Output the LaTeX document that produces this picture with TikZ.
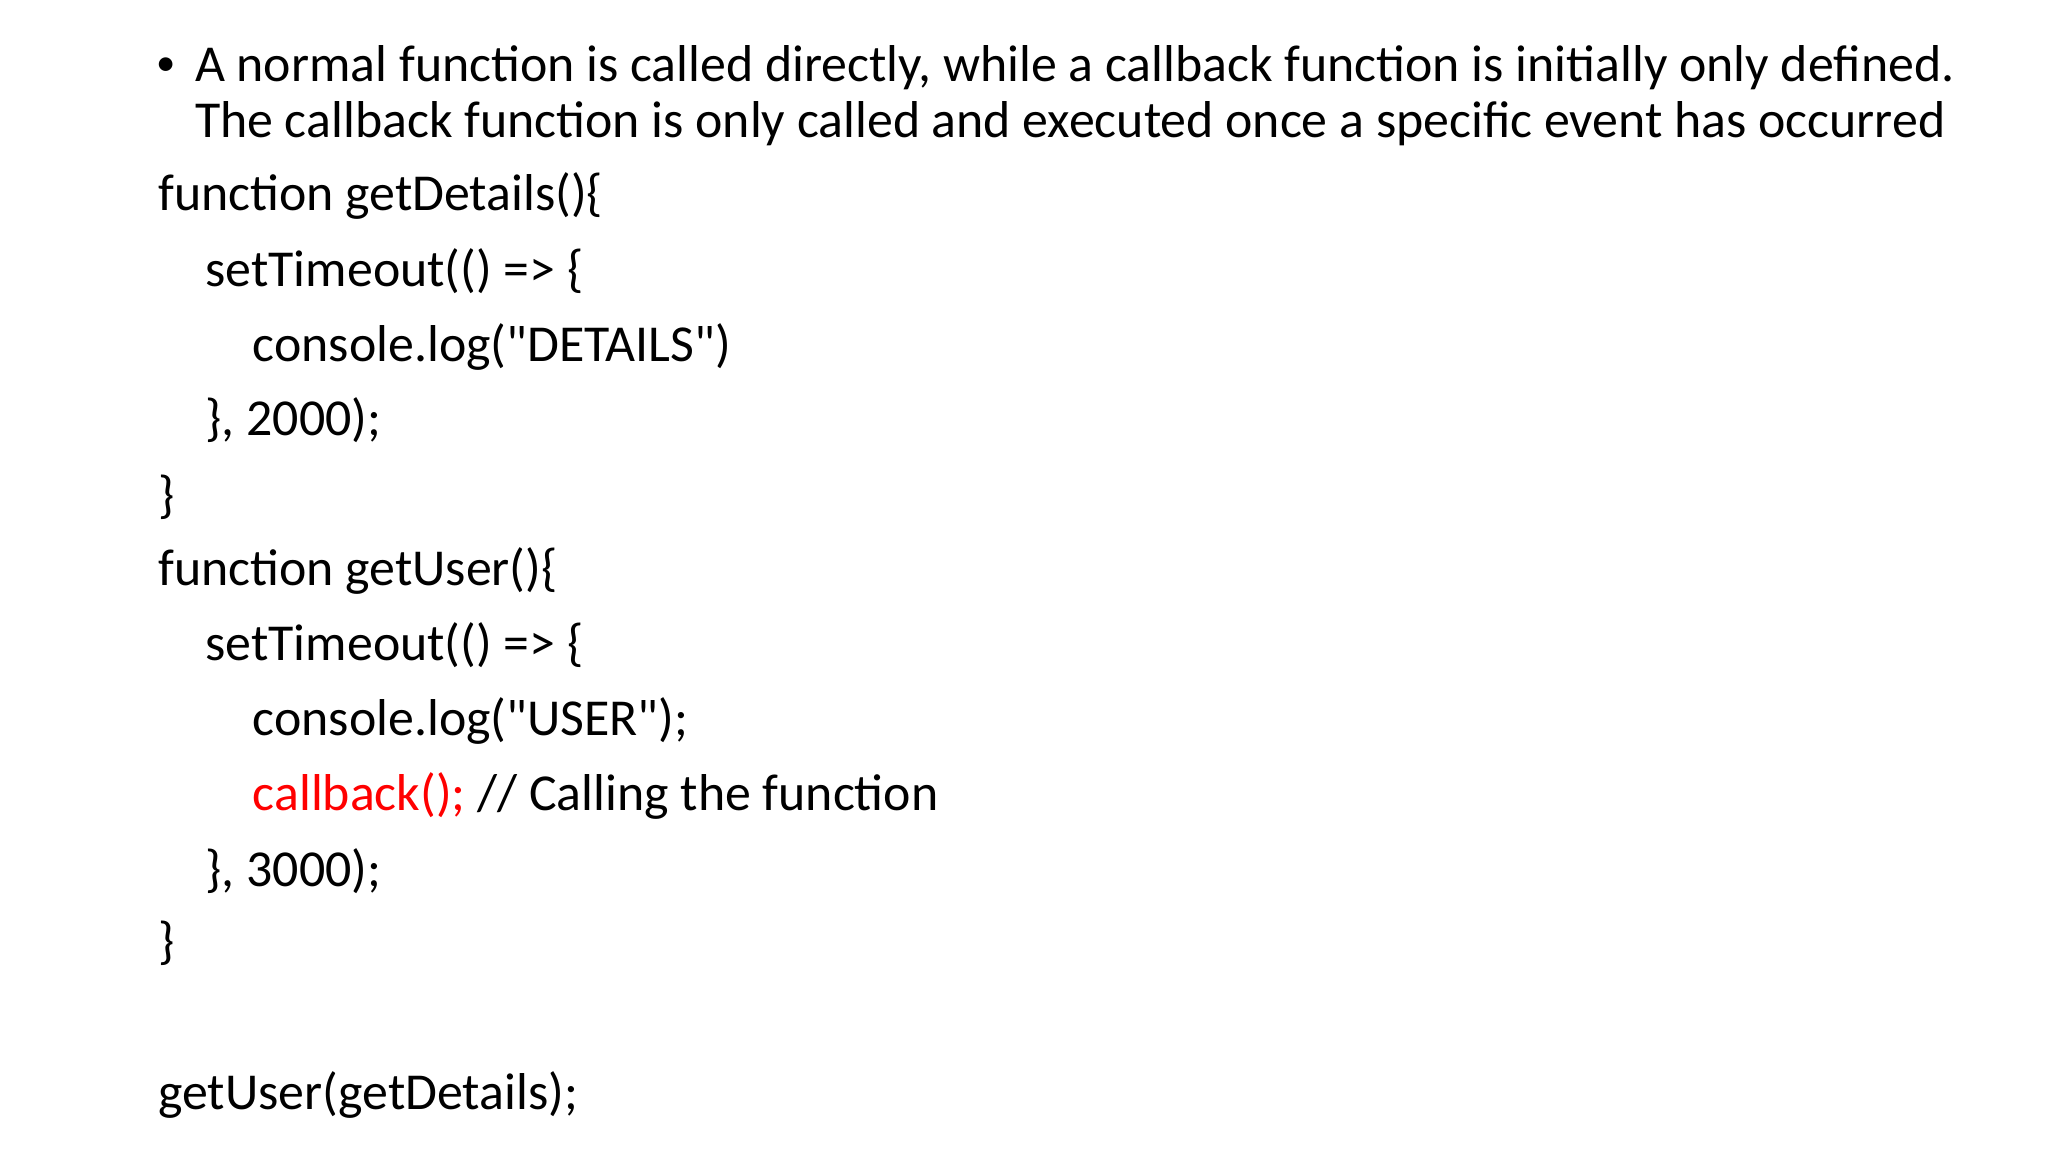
\documentclass[tikz,border=0pt]{standalone}
\usepackage{fontspec}
\setmainfont{Carlito}
\begin{document}
\begin{tikzpicture}[x=1cm,y=1cm,
  t/.style={anchor=base west,inner sep=0pt,font=\fontsize{14.75pt}{18pt}\selectfont}]
\fill[white] (0,0) rectangle (20.48,-11.52);
\useasboundingbox (0,0) rectangle (20.48,-11.52);
\node[t,font=\fontsize{11pt}{13pt}\selectfont] (b) at (1.56,-0.76) {\textbullet};
\node[t] (l1) at (1.943,-0.814) {A normal function is called directly, while a callback function is initially only defined.};
\node[t] (l2) at (1.943,-1.379) {The callback function is only called and executed once a specific event has occurred};
\node[t] (c1) at (1.576,-2.101) {function getDetails()\{};
\node[t] (c2) at (2.048,-2.862) {setTimeout(() => \{};
\node[t] (c3) at (2.521,-3.611) {console.log(\textquotedbl DETAILS\textquotedbl)};
\node[t] (c4) at (2.048,-4.359) {\}, 2000);};
\node[t] (c5) at (1.576,-5.121) {\}};
\node[t] (c6) at (1.576,-5.856) {function getUser()\{};
\node[t] (c7) at (2.048,-6.604) {setTimeout(() => \{};
\node[t] (c8) at (2.521,-7.353) {console.log(\textquotedbl USER\textquotedbl);};
\node[t] (c9) at (2.521,-8.101) {\textcolor{red}{callback();} // Calling the function};
\node[t] (c10) at (2.048,-8.863) {\}, 3000);};
\node[t] (c11) at (1.576,-9.585) {\}};
\node[t] (c12) at (1.576,-11.095) {getUser(getDetails);};
\end{tikzpicture}
\end{document}
